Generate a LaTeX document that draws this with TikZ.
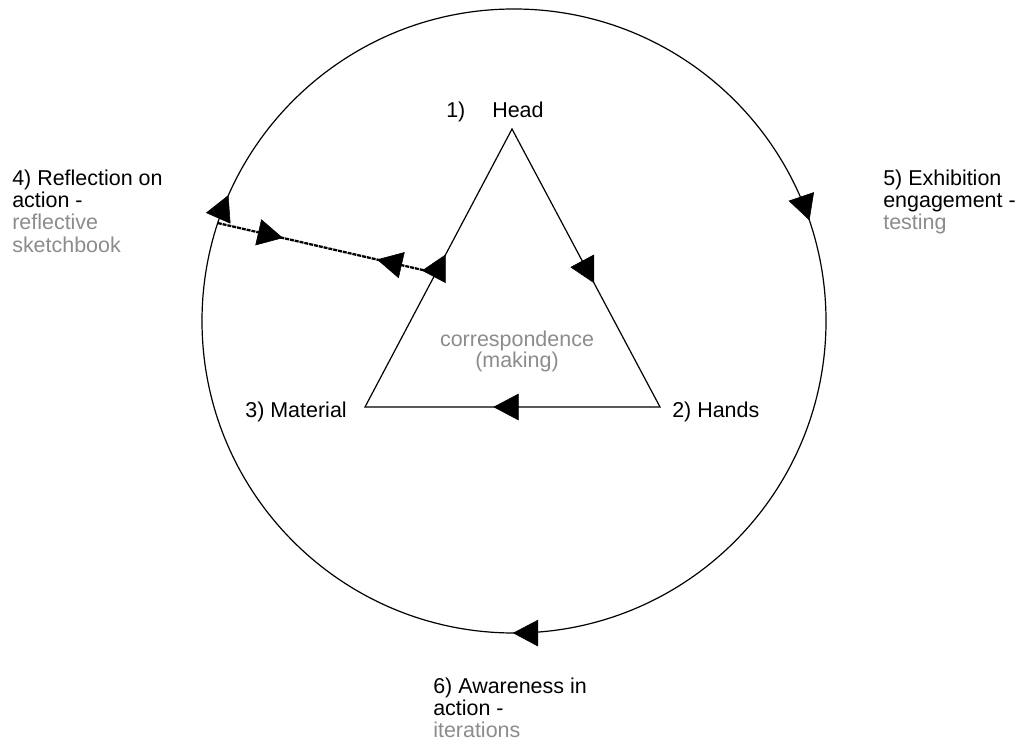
\documentclass[tikz,border=0pt]{standalone}
\usepackage{fontspec}
\setmainfont{Liberation Sans}
\usetikzlibrary{arrows.meta,decorations.markings,calc}
\definecolor{txtgray}{RGB}{140,140,140}
\tikzset{
  lbl/.style={inner sep=0pt, anchor=base west, font=\fontsize{16.1}{16.5}\selectfont, text=black},
  glbl/.style={lbl, text=txtgray},
  bigtip/.style={line width=0.4pt, solid},
  tri/.style={draw=black, line width=0.9pt, line join=miter},
  circ/.style={draw=black, line width=0.9pt},
  dashline/.style={draw=black, line width=1.7pt, dash pattern=on 3pt off 0.7pt},
}
\newcommand{\mytip}{Triangle[length=19pt,width=20pt]}
\begin{document}
\begin{tikzpicture}[x=0.75pt,y=0.75pt]
\useasboundingbox (0,0) rectangle (1019,740);
% coordinates
\coordinate (cen) at (514,419);
\coordinate (head) at (512,611);
\coordinate (hands) at (660,333);
\coordinate (mat) at (365,333);
\coordinate (pc) at ($(cen)+(161.7:312)$);
\coordinate (pt) at ($(mat)!0.482!(head)$);
% outer cycle (clockwise)
\draw[circ, postaction={decorate}, decoration={markings,
   mark=at position 0.1978 with {\arrow[bigtip]{\mytip}},
   mark=at position 0.5006 with {\arrow[bigtip]{\mytip}},
   mark=at position 0.8161 with {\arrow[bigtip]{\mytip}}}]
   (cen) ++(90:312) arc[start angle=90, end angle=-270, radius=312];
% triangle
\draw[tri, postaction={decorate}, decoration={markings,
   mark=at position 0.189 with {\arrow[bigtip]{\mytip}},
   mark=at position 0.521 with {\arrow[bigtip]{\mytip}},
   mark=at position 0.8465 with {\arrow[bigtip]{\mytip}}}]
   (head) -- (hands) -- (mat) -- cycle;
% dashed link
\draw[dashline, postaction={decorate}, decoration={markings,
   mark=at position 0.299 with {\arrow[bigtip]{\mytip}},
   mark=at position 0.730 with {\arrowreversed[bigtip]{\mytip}}}]
   (pc) -- (pt);
% labels
\node[lbl] (h1) at (446,622) {1)};
\node[lbl] (h2) at (492,622) {Head};
\node[lbl, anchor=base east] (m) at (347,323) {3) Material};
\node[lbl] (hd) at (672,323) {2) Hands};
\node[glbl, anchor=base] (c1) at (517,394) {correspondence};
\node[glbl, anchor=base] (c2) at (517,373) {(making)};
\node[lbl] (r1) at (12,554) {4) Reflection on};
\node[lbl] (r2) at (12,532) {action -};
\node[glbl] (r3) at (12,510) {reflective};
\node[glbl] (r4) at (12,488) {sketchbook};
\node[lbl] (e1) at (883,554) {5) Exhibition};
\node[lbl] (e2) at (883,532) {engagement -};
\node[glbl] (e3) at (883,510) {testing};
\node[lbl] (a1) at (433,47) {6) Awareness in};
\node[lbl] (a2) at (433,25) {action -};
\node[glbl] (a3) at (433,3) {iterations};
\end{tikzpicture}
\end{document}
